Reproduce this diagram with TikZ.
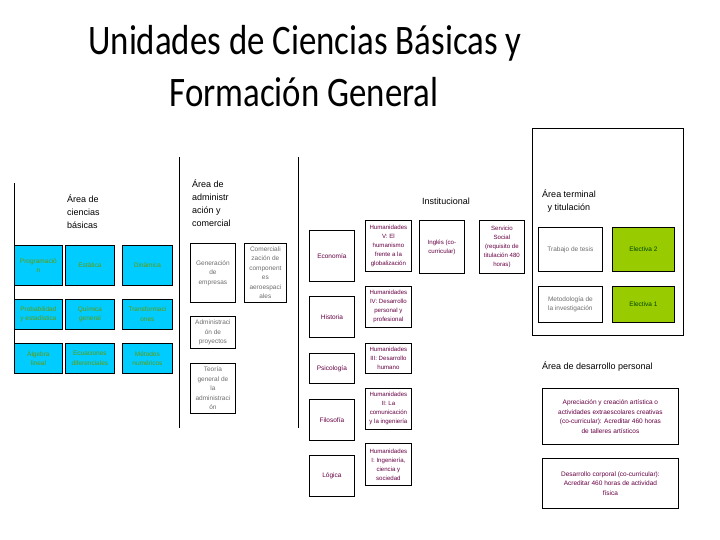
\documentclass[tikz,border=0pt]{standalone}
\usepackage{graphicx}
\usepackage{fontspec}
\setmainfont{Liberation Sans}
\newfontfamily\titlefont{Carlito}

\definecolor{basicfill}{RGB}{0,204,255}
\definecolor{basictext}{RGB}{102,153,0}
\definecolor{electfill}{RGB}{153,204,0}
\definecolor{electtext}{RGB}{0,70,0}
\definecolor{humtext}{RGB}{102,0,68}
\definecolor{graytext}{RGB}{110,110,110}

\tikzset{
  cell/.style={draw=black, line width=0.8pt, anchor=north west, inner sep=1pt,
    align=center, font=\fontsize{6.5}{9.5}\selectfont},
  basicbox/.style={cell, fill=basicfill, text=basictext},
  adminbox/.style={cell, fill=white, text=graytext},
  humbox/.style={cell, fill=white, text=humtext},
  smallbox/.style={humbox, font=\fontsize{6.1}{9}\selectfont},
  electbox/.style={cell, fill=electfill, text=electtext},
  arealabel/.style={inner sep=0pt, font=\fontsize{9}{13}\selectfont},
  titleline/.style={anchor=base, inner sep=0pt, font=\titlefont\fontsize{42}{50}\selectfont},
  divider/.style={line width=0.8pt},
}

\begin{document}
\begin{tikzpicture}[x=1pt, y=-1pt]
  \useasboundingbox[fill=white] (0,0) rectangle (720,540);

  % Title
  \node[titleline] (title1) at (305,55) {\scalebox{0.83}[1]{Unidades de Ciencias Básicas y}};
  \node[titleline] (title2) at (304,107) {\scalebox{0.83}[1]{Formación General}};

  % Column dividers
  \draw[divider] (14,183) -- (14,373);
  \draw[divider] (179,157) -- (179,428);
  \draw[divider] (298,157) -- (298,428);

  % Area de ciencias basicas
  \node[arealabel, anchor=north west, align=left] (basiclabel) at (67,194)
    {Área de\\ciencias\\básicas};
  \node[basicbox, minimum width=48, minimum height=40] (prog) at (14,245) {Programació\\n};
  \node[basicbox, minimum width=49, minimum height=40] (estatica) at (65,245) {Estática};
  \node[basicbox, minimum width=50, minimum height=40] (dinamica) at (122,245) {Dinámica};
  \node[basicbox, minimum width=48, minimum height=30] (probab) at (14,299) {Probabilidad\\y estadística};
  \node[basicbox, minimum width=49, minimum height=30] (quimica) at (65,299) {Química\\general};
  \node[basicbox, minimum width=50, minimum height=30] (transf) at (122,299) {Transformaci\\ones};
  \node[basicbox, minimum width=48, minimum height=30] (algebra) at (14,343) {Álgebra\\lineal};
  \node[basicbox, minimum width=49, minimum height=30] (ecuac) at (65,343) {Ecuaciones\\diferenciales};
  \node[basicbox, minimum width=50, minimum height=30] (metnum) at (122,343) {Métodos\\numéricos};

  % Area de administracion y comercial
  \node[arealabel, anchor=north west, align=left] (adminlabel) at (192,179)
    {Área de\\administr\\ación y\\comercial};
  \node[adminbox, minimum width=45, minimum height=59] (genemp) at (190,243) {Generación\\de\\empresas};
  \node[adminbox, minimum width=42, minimum height=59] (comerc) at (244,243)
    {Comerciali\\zación de\\component\\es\\aeroespaci\\ales};
  \node[adminbox, minimum width=45, minimum height=32] (admproy) at (190,316) {Administraci\\ón de\\proyectos};
  \node[adminbox, minimum width=45, minimum height=50] (teoria) at (190,363)
    {Teoría\\general de\\la\\administraci\\ón};

  % Institucional
  \node[arealabel] (instlabel) at (446,201) {Institucional};
  \node[humbox, minimum width=45, minimum height=51] (economia) at (309,230) {Economía};
  \node[humbox, minimum width=45, minimum height=41] (historia) at (309,296) {Historia};
  \node[humbox, minimum width=45, minimum height=30] (psico) at (309,353) {Psicología};
  \node[humbox, minimum width=45, minimum height=41] (filo) at (309,399) {Filosofía};
  \node[humbox, minimum width=45, minimum height=41] (logica) at (309,455) {Lógica};
  \node[smallbox, minimum width=46, minimum height=51] (humv) at (365,220)
    {Humanidades\\V: El\\humanismo\\frente a la\\globalización};
  \node[smallbox, minimum width=46, minimum height=41] (humiv) at (365,286)
    {Humanidades\\IV: Desarrollo\\personal y\\profesional};
  \node[smallbox, minimum width=46, minimum height=30] (humiii) at (365,343)
    {Humanidades\\III: Desarrollo\\humano};
  \node[smallbox, minimum width=46, minimum height=41] (humii) at (365,388)
    {Humanidades\\II: La\\comunicación\\y la ingeniería};
  \node[smallbox, minimum width=46, minimum height=42] (humi) at (365,443)
    {Humanidades\\I: Ingeniería,\\ciencia y\\sociedad};
  \node[smallbox, minimum width=45, minimum height=53] (ingles) at (419,220)
    {Inglés (co-\\curricular)};
  \node[smallbox, minimum width=45, minimum height=53] (servicio) at (479,220)
    {Servicio\\Social\\(requisito de\\titulación 480\\horas)};

  % Area terminal y titulacion
  \node[draw=black, line width=0.8pt, anchor=north west, minimum width=151, minimum height=207] (terminal) at (532,128) {};
  \node[arealabel, align=center] (termlabel) at (569,201) {Área terminal\\y titulación};
  \node[adminbox, minimum width=64, minimum height=44] (tesis) at (538,227) {Trabajo de tesis};
  \node[electbox, minimum width=62, minimum height=44] (elect2) at (612,227) {Electiva 2};
  \node[adminbox, minimum width=64, minimum height=36] (metod) at (538,286) {Metodología de\\la investigación};
  \node[electbox, minimum width=62, minimum height=36] (elect1) at (612,286) {Electiva 1};

  % Area de desarrollo personal
  \node[arealabel, anchor=west] (desalabel) at (542,367) {Área de desarrollo personal};
  \node[humbox, minimum width=136, minimum height=56] (aprec) at (542,388)
    {Apreciación y creación artística o\\actividades extraescolares creativas\\(co-curricular): Acreditar 460 horas\\de talleres artísticos};
  \node[humbox, minimum width=136, minimum height=50] (corporal) at (542,458)
    {Desarrollo corporal (co-curricular):\\Acreditar 460 horas de actividad\\física};
\end{tikzpicture}
\end{document}
